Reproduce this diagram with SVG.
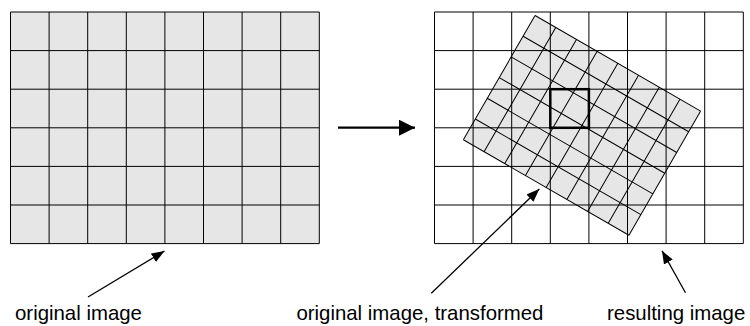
<svg xmlns="http://www.w3.org/2000/svg" width="750" height="326" viewBox="0 0 750 326">
  <style>
    .grid { stroke: #000; stroke-width: 1; fill: none; }
    .cellfill { fill: #e6e6e6; }
    .lbl { font-family: "Liberation Sans", Arial, sans-serif; font-size: 20.4px; fill: #000; }
    .conn { stroke: #000; fill: none; }
  </style>
  <defs>
    <marker id="sm" markerUnits="userSpaceOnUse" markerWidth="14" markerHeight="11" refX="13" refY="5" orient="auto">
      <path d="M0,0 L13,5 L0,10 z" fill="#000"/>
    </marker>
    <marker id="big" markerUnits="userSpaceOnUse" markerWidth="17" markerHeight="17" refX="16" refY="8" orient="auto">
      <path d="M0,0 L16,8 L0,16 z" fill="#000"/>
    </marker>
  </defs>
  <rect width="750" height="326" fill="#fff"/>

  <g id="original-image">
    <rect class="cellfill" x="10.5" y="12" width="308.8" height="231.6"/>
    <path class="grid" d="M10.5,12V243.6M49.1,12V243.6M87.7,12V243.6M126.3,12V243.6M164.9,12V243.6M203.5,12V243.6M242.1,12V243.6M280.7,12V243.6M319.3,12V243.6M10.5,12H319.3M10.5,50.6H319.3M10.5,89.2H319.3M10.5,127.8H319.3M10.5,166.4H319.3M10.5,205H319.3M10.5,243.6H319.3"/>
  </g>

  <g id="resulting-image">
    <rect x="434.5" y="12" width="308.8" height="231.6" fill="#fff"/>
    <g id="transformed-image" transform="translate(582,125.4) rotate(30)">
      <rect class="cellfill" x="-95.6" y="-71.7" width="191.2" height="143.4"/>
      <path class="grid" d="M-95.6,-71.7V71.7M-71.7,-71.7V71.7M-47.8,-71.7V71.7M-23.9,-71.7V71.7M0,-71.7V71.7M23.9,-71.7V71.7M47.8,-71.7V71.7M71.7,-71.7V71.7M95.6,-71.7V71.7M-95.6,-71.7H95.6M-95.6,-47.8H95.6M-95.6,-23.9H95.6M-95.6,0H95.6M-95.6,23.9H95.6M-95.6,47.8H95.6M-95.6,71.7H95.6"/>
    </g>
    <path class="grid" d="M434.5,12V243.6M473.1,12V243.6M511.7,12V243.6M550.3,12V243.6M588.9,12V243.6M627.5,12V243.6M666.1,12V243.6M704.7,12V243.6M743.3,12V243.6M434.5,12H743.3M434.5,50.6H743.3M434.5,89.2H743.3M434.5,127.8H743.3M434.5,166.4H743.3M434.5,205H743.3M434.5,243.6H743.3"/>
    <rect x="550.3" y="89.2" width="38.6" height="38.6" fill="none" stroke="#000" stroke-width="2.5"/>
  </g>

  <g id="connectors">
    <line class="conn" x1="338" y1="127.7" x2="415" y2="127.7" stroke-width="2.2" marker-end="url(#big)"/>
    <line class="conn" x1="88" y1="297" x2="164.5" y2="251" stroke-width="1.3" marker-end="url(#sm)"/>
    <line class="conn" x1="431.3" y1="293.3" x2="539.3" y2="189" stroke-width="1.3" marker-end="url(#sm)"/>
    <line class="conn" x1="685.5" y1="292.7" x2="662" y2="250.7" stroke-width="1.3" marker-end="url(#sm)"/>
  </g>

  <g id="label-original">
    <text class="lbl" x="15" y="320">original image</text>
  </g>
  <g id="label-transformed">
    <text class="lbl" x="296.4" y="320">original image, transformed</text>
  </g>
  <g id="label-resulting">
    <text class="lbl" x="607" y="320">resulting image</text>
  </g>
</svg>
